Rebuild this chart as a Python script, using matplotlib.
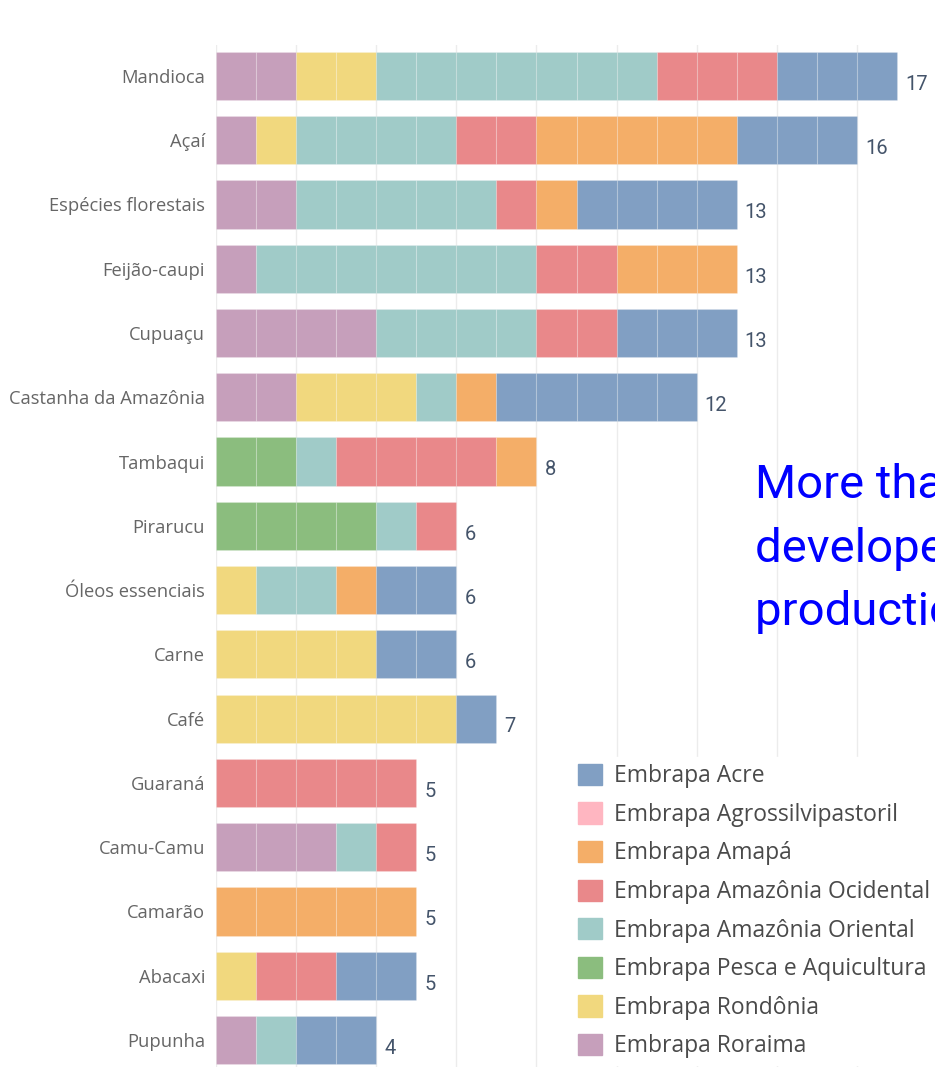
import numpy as np
import matplotlib
matplotlib.use("Agg")
import matplotlib.pyplot as plt
from matplotlib.patches import Patch

# products (top to bottom)
products = ["Mandioca", "Açaí", "Espécies florestais", "Feijão-caupi", "Cupuaçu",
            "Castanha da Amazônia", "Tambaqui", "Pirarucu", "Óleos essenciais", "Carne",
            "Café", "Guaraná", "Camu-Camu", "Camarão", "Abacaxi", "Pupunha"]

# number of technologies per unit, one list per unit (same order as products)
acre      = [3, 3, 4, 0, 3, 5, 0, 0, 2, 2, 1, 0, 0, 0, 2, 2]
agro      = [0, 0, 0, 0, 0, 0, 0, 0, 0, 0, 0, 0, 0, 0, 0, 0]
amapa     = [0, 5, 1, 3, 0, 1, 1, 0, 1, 0, 0, 0, 0, 5, 0, 0]
ocidental = [3, 2, 1, 2, 2, 0, 4, 1, 0, 0, 0, 5, 1, 0, 2, 0]
oriental  = [7, 4, 5, 7, 4, 1, 1, 1, 2, 0, 0, 0, 1, 0, 0, 1]
pesca     = [0, 0, 0, 0, 0, 0, 2, 4, 0, 0, 0, 0, 0, 0, 0, 0]
rondonia  = [2, 1, 0, 0, 0, 3, 0, 0, 1, 4, 6, 0, 0, 0, 1, 0]
roraima   = [2, 1, 2, 1, 4, 2, 0, 0, 0, 0, 0, 0, 3, 0, 0, 1]

units = ["Embrapa Acre", "Embrapa Agrossilvipastoril", "Embrapa Amapá",
         "Embrapa Amazônia Ocidental", "Embrapa Amazônia Oriental",
         "Embrapa Pesca e Aquicultura", "Embrapa Rondônia", "Embrapa Roraima"]
series = [acre, agro, amapa, ocidental, oriental, pesca, rondonia, roraima]
colors = ["#819fc3", "#ffb6c1", "#f4ae68", "#e9888a", "#a0cbc8", "#8bbd7e", "#f1d87e", "#c69fbb"]

note = "More than 100 technologies\ndeveloped for the\nproduction chains"

fig = plt.figure(figsize=(9.35, 10.67), dpi=100)
W, H = 935, 1067
ax = fig.add_axes([216 / W, 0, (W - 216) / W, (1067 - 45) / H])

y = np.arange(len(products))
left = np.zeros(len(products))
# stacking goes in reverse legend order (Roraima first)
for vals, col in zip(series[::-1], colors[::-1]):
    for i, v in enumerate(vals):
        for k in range(v):
            ax.barh(y[i], 1, left=left[i] + k, height=0.75, color=col,
                    edgecolor=(1, 1, 1, 0.18), linewidth=0.8, zorder=2)
    left += np.array(vals)

totals = np.sum(series, axis=0)
for i, t in enumerate(totals):
    ax.text(t + 0.2, y[i] + 0.13, str(t), va="center", ha="left",
            fontsize=14.5, color="#44546a", family="Roboto")

ax.set_xlim(0, (W - 216) / 40.06)
ax.set_ylim(15.42, -0.48)
ax.set_xticks(np.arange(0, 18, 2))
ax.grid(axis="x", color="#ececec", linewidth=1, zorder=0)
ax.set_axisbelow(True)
ax.tick_params(axis="x", length=0, labelbottom=False)
ax.set_yticks(y)
ax.set_yticklabels(products, family="Open Sans", fontsize=13.2, color="#666666")
ax.tick_params(axis="y", length=0, pad=8)
for s in ax.spines.values():
    s.set_visible(False)

handles = [Patch(facecolor=c, edgecolor=c) for c in colors]
leg = ax.legend(handles, units, loc="upper left", bbox_to_anchor=(571 / W, 1 - 757 / H),
                bbox_transform=fig.transFigure, frameon=True, facecolor="white",
                edgecolor="white", framealpha=1, fancybox=False,
                prop={"family": "Open Sans", "size": 16.5},
                handlelength=1.04, handleheight=1.04, handletextpad=0.55,
                labelspacing=0.62, borderpad=0.3, borderaxespad=0)
for txt in leg.get_texts():
    txt.set_color("#4a4a4a")
leg.set_zorder(5)

fig.text(755 / W, 1 - 463 / H, note, va="top", ha="left", fontsize=34,
         color="#0000ff", family="Roboto", linespacing=1.55)

fig.savefig("out.png", dpi=100)
